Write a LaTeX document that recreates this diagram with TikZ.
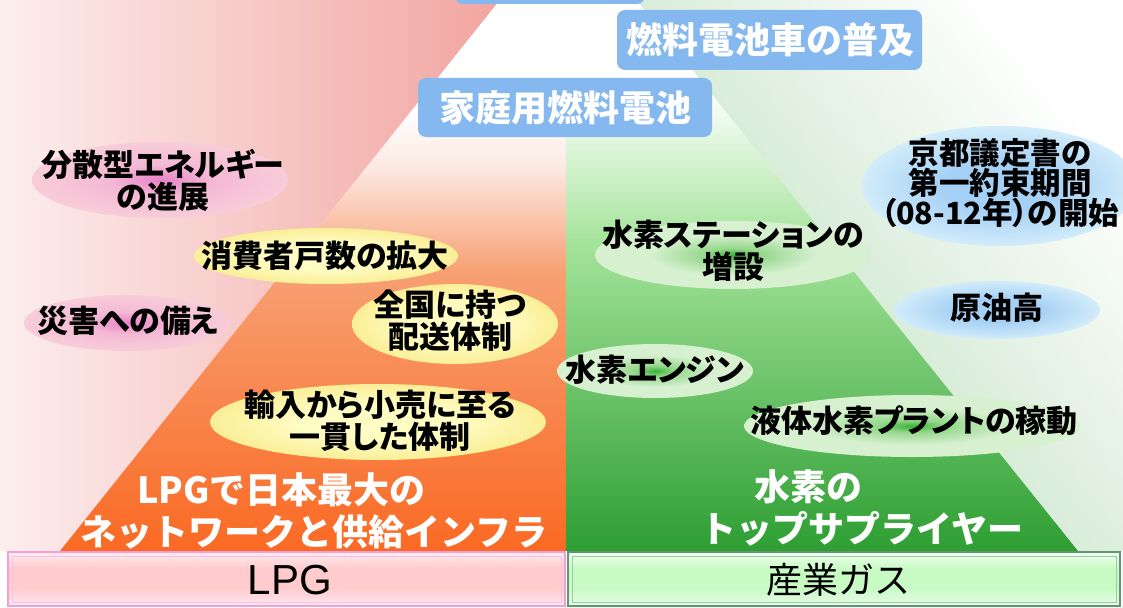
\documentclass[tikz,border=0pt]{standalone}
\usepackage{fontspec}
\setmainfont{Liberation Sans}
\newfontfamily\jp[RawFeature=+palt]{Noto Sans CJK JP}
\newfontfamily\jpw{Noto Sans CJK JP}
\definecolor{pinkE}{RGB}{242,165,160}
\definecolor{pinkS}{RGB}{252,238,238}
\definecolor{greenBG}{RGB}{185,220,185}
\definecolor{orA}{RGB}{252,232,225}
\definecolor{orB}{RGB}{247,160,115}
\definecolor{orC}{RGB}{250,105,35}
\definecolor{grA}{RGB}{165,228,155}
\definecolor{grC}{RGB}{45,158,50}
\definecolor{boxblue}{RGB}{133,184,238}
\definecolor{gE1}{RGB}{55,180,55}
\definecolor{gE2}{RGB}{150,215,140}
\definecolor{gE3}{RGB}{214,240,208}
\definecolor{pE1}{RGB}{232,130,200}
\definecolor{pE2}{RGB}{244,185,212}
\definecolor{pE3}{RGB}{248,205,218}
\definecolor{yE1}{RGB}{255,252,195}
\definecolor{yE3}{RGB}{250,238,150}
\definecolor{bE1}{RGB}{165,208,245}
\definecolor{bE3}{RGB}{210,236,250}
\definecolor{lpgT}{RGB}{253,236,240}
\definecolor{lpgM}{RGB}{255,203,205}
\definecolor{lpgB}{RGB}{253,232,242}
\definecolor{lpgL}{RGB}{240,160,215}
\definecolor{lpgL2}{RGB}{246,195,228}
\definecolor{gasT}{RGB}{242,255,242}
\definecolor{gasM}{RGB}{200,250,196}
\definecolor{gasB}{RGB}{232,252,232}
\definecolor{gasL}{RGB}{95,150,115}
\definecolor{gasL2}{RGB}{160,200,168}
\pgfdeclareradialshading{grnell}{\pgfpoint{0bp}{0bp}}{color(0bp)=(gE1); color(5bp)=(gE2); color(15bp)=(gE3); color(25bp)=(gE3); color(50bp)=(gE3)}
\pgfdeclareradialshading{pnkell}{\pgfpoint{0bp}{0bp}}{color(0bp)=(pE1); color(10bp)=(pE2); color(25bp)=(pE3); color(50bp)=(pE3)}
\pgfdeclareradialshading{ylwell}{\pgfpoint{0bp}{0bp}}{color(0bp)=(yE1); color(12bp)=(yE1); color(25bp)=(yE3); color(50bp)=(yE3)}
\pgfdeclareradialshading{bluell}{\pgfpoint{0bp}{0bp}}{color(0bp)=(bE1); color(10bp)=(bE1); color(25bp)=(bE3); color(50bp)=(bE3)}
\pgfdeclareverticalshading{lpgbar}{100bp}{color(0bp)=(lpgB); color(25bp)=(lpgB); color(42bp)=(lpgM); color(60bp)=(lpgM); color(75bp)=(lpgT); color(100bp)=(lpgT)}
\pgfdeclareverticalshading{gasbar}{100bp}{color(0bp)=(gasB); color(25bp)=(gasB); color(42bp)=(gasM); color(60bp)=(gasM); color(75bp)=(gasT); color(100bp)=(gasT)}
\tikzset{
  lbl/.style={font=\jp\bfseries\fontsize{31}{32}\selectfont, align=center, inner sep=0pt, text=black},
  wlbl/.style={font=\jpw\bfseries\fontsize{36}{42}\selectfont, align=left, inner sep=0pt, text=white},
  bluebox/.style={fill=boxblue, rounded corners=8pt},
  btxt/.style={font=\jpw\bfseries\fontsize{36}{40}\selectfont, text=white, inner sep=0pt},
  bartxt/.style={inner sep=0pt, text=black},
}
\begin{document}
\begin{tikzpicture}[x=1pt,y=-1pt]
\useasboundingbox (0,0) rectangle (1123,607);
\clip (0,0) rectangle (1123,607);
\fill[white] (0,0) rectangle (1123,607);
% left background
\begin{scope}
  \clip (0,0) -- (500,0) -- (60,551) -- (0,551) -- cycle;
  \shade[left color=pinkS, right color=pinkE] (0,0) rectangle (500,551);
\end{scope}
% right background
\begin{scope}
  \clip (636,0) -- (1123,0) -- (1123,551) -- (1078,551) -- cycle;
  \shade[top color=white, bottom color=greenBG, shading angle=-51] (636,0) rectangle (1123,551);
\end{scope}
% pyramid left half
\begin{scope}
  \clip (500,0) -- (566,0) -- (566,551) -- (60,551) -- cycle;
  \fill[white] (0,0) rectangle (566,112);
  \shade[top color=white, bottom color=orA] (0,110) rectangle (566,170);
  \shade[top color=orA, bottom color=orB] (0,168) rectangle (566,272);
  \shade[top color=orB, bottom color=orC] (0,270) rectangle (566,552);
\end{scope}
% pyramid right half
\begin{scope}
  \clip (566,0) -- (636,0) -- (1078,551) -- (566,551) -- cycle;
  \fill[white] (566,0) rectangle (1123,92);
  \shade[top color=white, bottom color=grA] (566,90) rectangle (1123,242);
  \shade[top color=grA, bottom color=grC] (566,240) rectangle (1123,552);
\end{scope}
% blue boxes
\path[bluebox] (455,-60) rectangle (645,4);
\path[bluebox] (617,10) rectangle (922,70);
\node[btxt] (fcv) at (770,40) {燃料電池車の普及};
\path[bluebox] (418,78) rectangle (712,137);
\node[btxt] (homefc) at (565,108) {家庭用燃料電池};
% ellipses
\shade[shading=pnkell] (160,180) ellipse (128 and 38);
\shade[shading=ylwell] (326,256) ellipse (132 and 28);
\shade[shading=pnkell] (127,323) ellipse (103 and 28);
\shade[shading=ylwell] (455,324) ellipse (103 and 40);
\shade[shading=ylwell] (378,422) ellipse (168 and 38);
\shade[shading=bluell] (1000,186) ellipse (138 and 60);
\shade[shading=grnell] (733,255) ellipse (138 and 34);
\shade[shading=bluell] (997,310) ellipse (103 and 29);
\shade[shading=grnell] (655,371) ellipse (98 and 27);
\shade[shading=grnell] (912,426) ellipse (168 and 31);
% ellipse texts
\node[lbl] (bunsan) at (163,180) {分散型エネルギー\\の進展};
\node[lbl] (shohi) at (325,256) {消費者戸数の拡大};
\node[lbl] (saigai) at (128,321) {災害への備え};
\node[lbl] (haiso) at (450,321) {全国に持つ\\配送体制};
\node[lbl] (ikkan) at (380,421) {輸入から小売に至る\\一貫した体制};
\node[lbl, font=\jp\bfseries\fontsize{30.5}{30}\selectfont] (kyoto) at (1000,183) {京都議定書の\\第一約束期間\\（08-12年）の開始};
\node[lbl] (station) at (733,251) {水素ステーションの\\増設};
\node[lbl] (genyu) at (997,308) {原油高};
\node[lbl] (engine) at (655,370) {水素エンジン};
\node[lbl] (plant) at (914,421) {液体水素プラントの稼動};
% pyramid texts
\node[wlbl, anchor=west] (lpgnet) at (80,511) {\hspace*{57pt}LPGで日本最大の\\ネットワークと供給インフラ};
\node[wlbl, anchor=west] (h2top) at (700,508) {\hspace*{54pt}水素の\\トップサプライヤー};
% bottom bars
\path[shading=lpgbar, draw=lpgL, line width=1.2pt] (8,552) rectangle (565,606);
\draw[lpgL2, line width=0.8pt] (12,556) rectangle (561,602);
\node[bartxt, font=\fontsize{42}{44}\selectfont] (lpg) at (290,580) {LPG};
\path[shading=gasbar, draw=gasL, line width=1.2pt] (568,552) rectangle (1120,606);
\draw[gasL2, line width=0.8pt] (572,556) rectangle (1116,602);
\node[bartxt, font=\jpw\fontsize{36}{40}\selectfont] (gas) at (838,580) {産業ガス};
\end{tikzpicture}
\end{document}
